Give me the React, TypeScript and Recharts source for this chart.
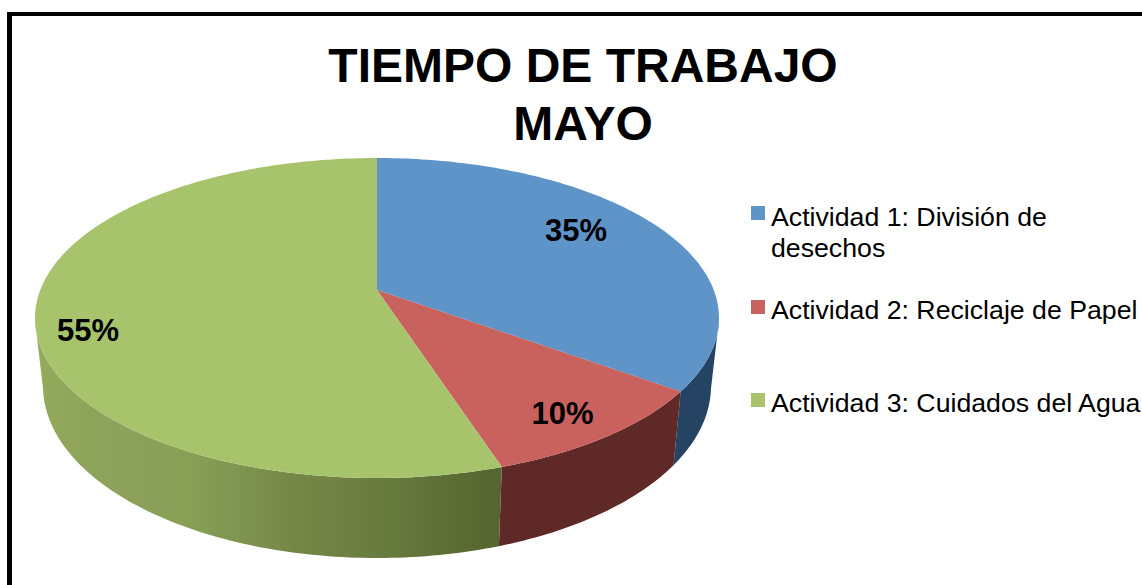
import React from 'react';
import { PieChart, Pie, Legend } from 'recharts';

const CATEGORIES = ['Actividad 1: División de desechos', 'Actividad 2: Reciclaje de Papel', 'Actividad 3: Cuidados del Agua'];
const VALUES = [35, 10, 55];
const TITLE_LINES = ['TIEMPO DE TRABAJO', 'MAYO'];

const TOP_COLORS = ['#5f94c9', '#c9625e', '#a7c46c'];
const WALL_COLORS = ['#254363', '#5e2926', 'url(#greenWall)'];
const GREEN_WALL_STOPS = ['#93ab5c', '#8ea45a', '#8ba05a', '#87a055', '#7f9350', '#748745', '#6e8143', '#66793c', '#5c6d35', '#56652f'];

// tilt of the pie: ratio of the ellipse axes and how far the apex sits above the ellipse centre
const SQUASH = 160 / 342;
const APEX_SHIFT = -0.175;
// bottom rim of the wall
const RIM_RX = 334;
const RIM_RY = 172;
const RIM_DROP = 68;

const LABEL_RADIUS = [0.716, 0.805, 0.845];
const LABEL_NUDGE = [-13, 6, 19];
const LEGEND_TOPS = [1, 94, 187];

const chartData = CATEGORIES.map((name, i) => ({ name, value: VALUES[i], fill: TOP_COLORS[i] }));

// circle angle (recharts degrees) -> point on the unit ellipse, with perspective
const project = (deg: number) => {
    const rad = ((90 - deg) * Math.PI) / 180;
    const u = Math.sin(rad);
    const v = -Math.cos(rad);
    const den = 1 + APEX_SHIFT * v;
    return { u: (u * Math.sqrt(1 - APEX_SHIFT * APEX_SHIFT)) / den, v: (v + APEX_SHIFT) / den };
};

const sampleAngles = (start: number, end: number) => {
    const steps = Math.max(2, Math.ceil(Math.abs(end - start)));
    const out: number[] = [];
    for (let i = 0; i <= steps; i++) out.push(start + ((end - start) * i) / steps);
    return out;
};

const Slice3D = (props: any) => {
    const { cx, cy, outerRadius, startAngle, endAngle, name } = props;
    const idx = CATEGORIES.indexOf(name);
    const ry = outerRadius * SQUASH;
    const pts = sampleAngles(startAngle, endAngle).map(project);

    const top = pts.map((p) => `${cx + p.u * outerRadius},${cy + p.v * ry}`);
    const topPath = `M${cx},${cy + APEX_SHIFT * ry} L${top.join(' L')} Z`;

    const visible = pts.filter((p) => p.v >= 0);
    let wallPath = '';
    if (visible.length > 1) {
        const upper = visible.map((p) => `${cx + p.u * outerRadius},${cy + p.v * ry}`);
        const lower = visible.map((p) => `${cx + p.u * RIM_RX},${cy + RIM_DROP + p.v * RIM_RY}`).reverse();
        wallPath = `M${upper.join(' L')} L${lower.join(' L')} Z`;
    }

    return (
        <g>
            {wallPath && <path d={wallPath} fill={WALL_COLORS[idx]} stroke="none" />}
            <path d={topPath} fill={TOP_COLORS[idx]} stroke="none" />
        </g>
    );
};

const renderLabel = (props: any) => {
    const { cx, cy, outerRadius, midAngle, index, value } = props;
    const ry = outerRadius * SQUASH;
    const edge = project(midAngle);
    const apexY = cy + APEX_SHIFT * ry;
    const t = LABEL_RADIUS[index];
    const x = cx + edge.u * outerRadius * t;
    const y = apexY + (cy + edge.v * ry - apexY) * t + LABEL_NUDGE[index];
    return (
        <text x={x} y={y} textAnchor="middle" dominantBaseline="central" fontFamily="'Liberation Sans', Arial, sans-serif" fontWeight="bold" fontSize={31} fill="#000">
            {`${value}%`}
        </text>
    );
};

const renderLegend = () => (
    <div style={{ position: 'relative', width: 391, height: 230, fontFamily: "'Liberation Sans', Arial, sans-serif", fontSize: 26.7, lineHeight: '31px', color: '#000' }}>
        {CATEGORIES.map((name, i) => (
            <div key={name} style={{ position: 'absolute', left: 0, top: LEGEND_TOPS[i], width: 391 }}>
                <span style={{ position: 'absolute', left: 0, top: i === 0 ? 4 : 5, width: 14, height: 14, background: TOP_COLORS[i] }} />
                <div style={{ marginLeft: 20 }}>{name}</div>
            </div>
        ))}
    </div>
);

const App: React.FC = () => (
    <div style={{ position: 'absolute', left: 0, top: 0, width: 1142, height: 585, overflow: 'hidden', background: '#fff' }}>
        <div style={{ position: 'absolute', left: 7, top: 12, width: 1200, height: 700, borderLeft: '5px solid #000', borderTop: '4px solid #000' }} />
        <div style={{ position: 'absolute', left: 0, top: 0 }}>
            <PieChart width={1142} height={585} margin={{ top: 0, right: 0, bottom: 0, left: 0 }}>
                <defs>
                    <linearGradient id="greenWall" gradientUnits="userSpaceOnUse" x1="35" y1="0" x2="503" y2="0">
                        {GREEN_WALL_STOPS.map((c, i) => (
                            <stop key={i} offset={i / (GREEN_WALL_STOPS.length - 1)} stopColor={c} />
                        ))}
                    </linearGradient>
                </defs>
                <text textAnchor="middle" fontFamily="'Liberation Sans', Arial, sans-serif" fontWeight="bold" fontSize={48} fill="#000">
                    <tspan x={583} y={82}>{TITLE_LINES[0]}</tspan>
                    <tspan x={583} y={140}>{TITLE_LINES[1]}</tspan>
                </text>
                <Pie
                    data={chartData}
                    dataKey="value"
                    nameKey="name"
                    cx={377}
                    cy={318}
                    outerRadius={342}
                    startAngle={90}
                    endAngle={-270}
                    stroke="none"
                    shape={Slice3D}
                    label={renderLabel}
                    labelLine={false}
                    isAnimationActive={false}
                />
                <Legend content={renderLegend} wrapperStyle={{ position: 'absolute', left: 751, top: 201, width: 391 }} />
            </PieChart>
        </div>
    </div>
);

export default App;
